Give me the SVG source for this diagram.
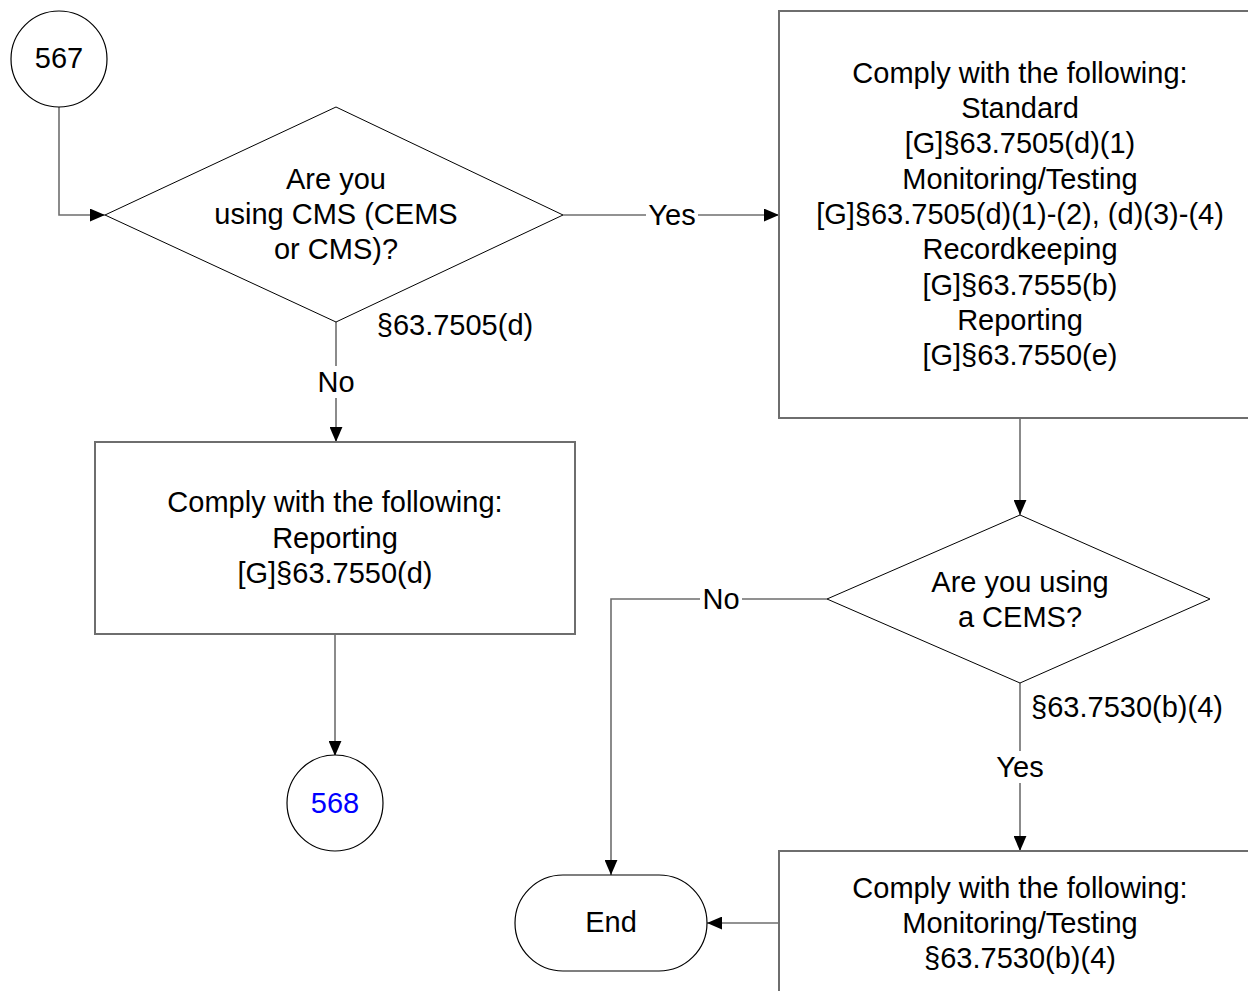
<svg xmlns="http://www.w3.org/2000/svg" width="1248" height="991" viewBox="0 0 1248 991">
<defs>
<marker id="arr" viewBox="0 0 14 12" refX="14" refY="6" markerWidth="15" markerHeight="13" markerUnits="userSpaceOnUse" orient="auto">
<path d="M0,0 L14,6 L0,12 Z" fill="#000"/>
</marker>
<style>
text{font-family:"Liberation Sans",Arial,sans-serif;font-size:29px;fill:#000;text-anchor:middle;dominant-baseline:central}
.box{fill:#fff;stroke:#6e6e6e;stroke-width:2}
.dia{fill:#fff;stroke:#000;stroke-width:1}
.circ{fill:#fff;stroke:#000;stroke-width:1.2}
.conn{fill:none;stroke:#6e6e6e;stroke-width:1.6;marker-end:url(#arr)}
.lbg{fill:#fff}
.blue{fill:#0000ff}
</style>
</defs>
<rect width="1248" height="991" fill="#fff"/>
<g id="connectors">
<path class="conn" d="M59,107 V215 H105"/>
<path class="conn" d="M563,215 H779"/>
<path class="conn" d="M336,322 V442"/>
<path class="conn" d="M335,634 V756"/>
<path class="conn" d="M1020,418 V515"/>
<path class="conn" d="M827,599 H611 V875"/>
<path class="conn" d="M1020,683 V851"/>
<path class="conn" d="M779,923 H707"/>
<rect class="lbg" x="646" y="199" width="52" height="32"/>
<text x="672" y="215">Yes</text>
<rect class="lbg" x="316" y="366" width="40" height="32"/>
<text x="336" y="382">No</text>
<rect class="lbg" x="700" y="583" width="42" height="32"/>
<text x="721" y="599">No</text>
<rect class="lbg" x="994" y="751" width="52" height="32"/>
<text x="1020" y="767">Yes</text>
<text x="455" y="325">§63.7505(d)</text>
<text x="1127" y="707">§63.7530(b)(4)</text>
</g>
<g id="start567">
<circle class="circ" cx="59" cy="59" r="48"/>
<text x="59" y="58">567</text>
</g>
<g id="decision1">
<polygon class="dia" points="336,107 563,215 336,322 105,215"/>
<text x="336" y="179">Are you</text>
<text x="336" y="214">using CMS (CEMS</text>
<text x="336" y="249">or CMS)?</text>
</g>
<g id="box1">
<rect class="box" x="779" y="11" width="482" height="407"/>
<text x="1020" y="73">Comply with the following:</text>
<text x="1020" y="108">Standard</text>
<text x="1020" y="143">[G]§63.7505(d)(1)</text>
<text x="1020" y="179">Monitoring/Testing</text>
<text x="1020" y="214">[G]§63.7505(d)(1)-(2), (d)(3)-(4)</text>
<text x="1020" y="249">Recordkeeping</text>
<text x="1020" y="285">[G]§63.7555(b)</text>
<text x="1020" y="320">Reporting</text>
<text x="1020" y="355">[G]§63.7550(e)</text>
</g>
<g id="box2">
<rect class="box" x="95" y="442" width="480" height="192"/>
<text x="335" y="502">Comply with the following:</text>
<text x="335" y="538">Reporting</text>
<text x="335" y="573">[G]§63.7550(d)</text>
</g>
<g id="end568">
<circle class="circ" cx="335" cy="803" r="48"/>
<text class="blue" x="335" y="803">568</text>
</g>
<g id="decision2">
<polygon class="dia" points="1020,515 1210,599 1020,683 827,599"/>
<text x="1020" y="582">Are you using</text>
<text x="1020" y="617">a CEMS?</text>
</g>
<g id="box3">
<rect class="box" x="779" y="851" width="482" height="150"/>
<text x="1020" y="888">Comply with the following:</text>
<text x="1020" y="923">Monitoring/Testing</text>
<text x="1020" y="958">§63.7530(b)(4)</text>
</g>
<g id="endTerm">
<rect class="circ" x="515" y="875" width="192" height="96" rx="48" ry="48"/>
<text x="611" y="922">End</text>
</g>
</svg>
